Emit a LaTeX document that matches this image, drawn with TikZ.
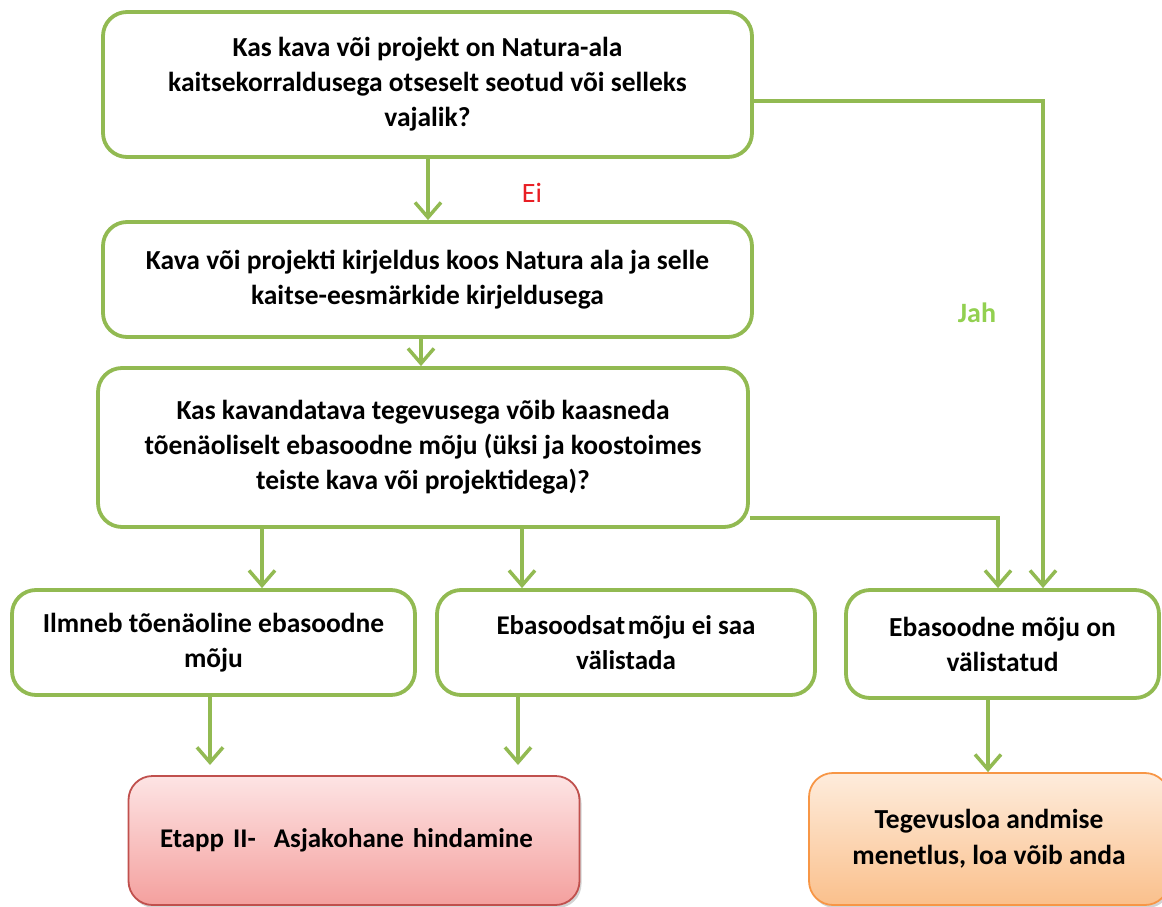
\documentclass[tikz,border=0pt]{standalone}
\usepackage{fontspec}
\setmainfont{Carlito}
\usetikzlibrary{arrows.meta,calc,shadows}
\definecolor{gline}{RGB}{146,186,82}
\definecolor{jahgreen}{RGB}{146,208,80}
\definecolor{eired}{RGB}{232,30,36}
\definecolor{pinktop}{RGB}{253,228,228}
\definecolor{pinkbot}{RGB}{244,160,158}
\definecolor{pinkline}{RGB}{192,80,77}
\definecolor{oratop}{RGB}{254,236,220}
\definecolor{orabot}{RGB}{250,192,140}
\definecolor{oraline}{RGB}{247,150,70}
\tikzset{
  gbox/.style={draw=gline, line width=3.8pt, rounded corners=24pt, fill=white,
    align=center, inner sep=0pt, font=\bfseries\fontsize{27.5}{35}\selectfont},
  arr/.style={draw=gline, line width=3.5pt,
    -{Straight Barb[length=15pt,width=26pt,line width=3.5pt]}},
  lbl/.style={font=\fontsize{28}{32}\selectfont},
}
\begin{document}
\begin{tikzpicture}[x=1pt,y=-1pt]
\useasboundingbox (0,0) rectangle (1162,907);
% boxes (centre at midpoint of pixel extents)
\node[gbox, minimum width=649pt, minimum height=145pt] (b1) at (427.5,84.5)
  {Kas kava või projekt on Natura-ala\\kaitsekorraldusega otseselt seotud või selleks\\vajalik?};
\node[gbox, minimum width=649pt, minimum height=115pt] (b2) at (427.5,279.5)
  {Kava või projekti kirjeldus koos Natura ala ja selle\\kaitse-eesmärkide kirjeldusega};
\node[gbox, minimum width=650pt, minimum height=159pt] (b3) at (423,447.5)
  {Kas kavandatava tegevusega võib kaasneda\\tõenäoliselt ebasoodne mõju (üksi ja koostoimes\\teiste kava või projektidega)?};
\node[gbox, minimum width=403pt, minimum height=105pt] (b4) at (213.5,642.5)
  {Ilmneb tõenäoline ebasoodne\\mõju};
\node[gbox, minimum width=378pt, minimum height=105pt,
  font=\bfseries\fontsize{27}{35}\selectfont] (b5) at (626,642.5)
  {Ebasoodsat\hspace{0.1em}mõju ei saa\\välistada};
\node[gbox, minimum width=313pt, minimum height=108pt] (b6) at (1002.5,644)
  {Ebasoodne mõju on\\välistatud};
\node[draw=pinkline, line width=1.8pt, rounded corners=24pt,
  top color=pinktop, bottom color=pinkbot,
  drop shadow={opacity=0.35, shadow xshift=2pt, shadow yshift=-3pt},
  minimum width=451pt, minimum height=129pt, text width=388pt, align=left,
  inner sep=0pt, font=\bfseries\fontsize{27}{35}\selectfont] (b7) at (354,840.5)
  {Etapp II-\ \ Asjakohane hindamine};
\node[draw=oraline, line width=1.8pt, rounded corners=24pt,
  top color=oratop, bottom color=orabot,
  drop shadow={opacity=0.35, shadow xshift=2pt, shadow yshift=-3pt},
  minimum width=360pt, minimum height=132pt, align=center,
  inner sep=0pt, font=\bfseries\fontsize{27.5}{36}\selectfont] (b8) at (989,839)
  {Tegevusloa andmise\\menetlus, loa võib anda};
% connectors
\draw[arr] (b1.south -| 428,0) -- (b2.north -| 428,0);
\draw[arr] (b2.south -| 421,0) -- (b3.north -| 421,0);
\coordinate (j1) at (1043,101);
\draw[arr] (b1.east |- j1) -- (j1) -- (b6.north -| j1);
\draw[arr] (b3.south -| 262,0) -- (b4.north -| 262,0);
\draw[arr] (b3.south -| 522,0) -- (b5.north -| 522,0);
\coordinate (j2) at (998,518);
\draw[arr] (b3.east |- j2) -- (j2) -- (b6.north -| j2);
\coordinate (e4) at (210,765);
\coordinate (e5) at (518,765);
\draw[arr] (b4.south -| e4) -- (e4);
\draw[arr] (b5.south -| e5) -- (e5);
\draw[arr] (b6.south -| 988,0) -- (b8.north -| 988,0);
% labels
\node[lbl, text=eired] (ei) at (532,193) {Ei};
\node[lbl, font=\bfseries\fontsize{28}{32}\selectfont, text=jahgreen] (jah) at (977,313) {Jah};
\end{tikzpicture}
\end{document}
